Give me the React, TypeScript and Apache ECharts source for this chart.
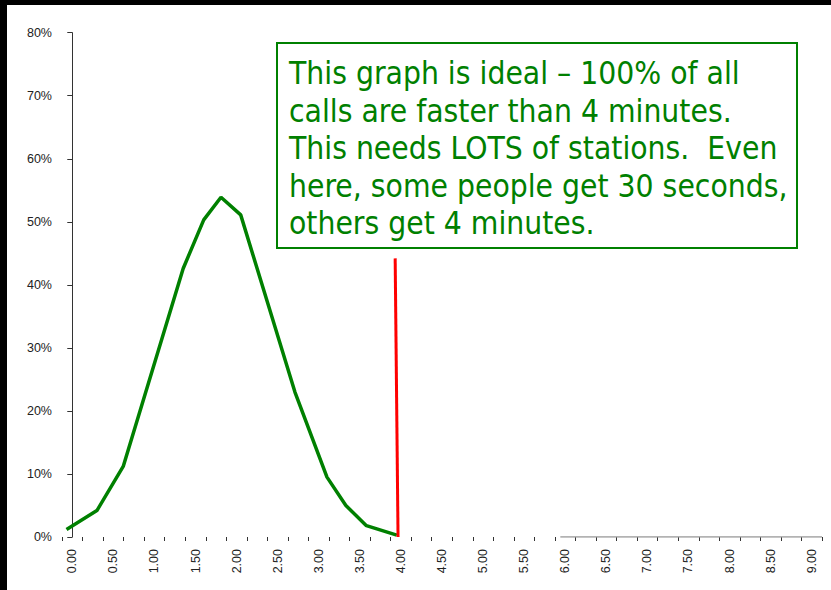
import React, { useEffect, useRef } from "react";
import * as echarts from "echarts";

// Tick labels of the category axis (minutes)
const categories = [
  "0.00", "0.25", "0.50", "0.75", "1.00", "1.25", "1.50", "1.75", "2.00", "2.25",
  "2.50", "2.75", "3.00", "3.25", "3.50", "3.75", "4.00", "4.25", "4.50", "4.75",
  "5.00", "5.25", "5.50", "5.75", "6.00", "6.25", "6.50", "6.75", "7.00", "7.25",
  "7.50", "7.75", "8.00", "8.25", "8.50", "8.75", "9.00",
];

// Green distribution curve (minutes, % of calls)
const curveX = [-0.07, 0.3, 0.62, 1.35, 1.6, 1.81, 2.05, 2.71, 3.1, 3.33, 3.58, 3.95];
const curveY = [1.2, 4.2, 11.2, 42.6, 50.3, 53.9, 51.1, 23.0, 9.5, 5.0, 1.8, 0.3];

// Red 4-minute marker
const markerX = [3.93, 3.965];
const markerY = [44.2, 0];

// Grey baseline tail
const tailX = [5.94, 9.125];
const tailY = [0, 0];

const yTicks = [0, 10, 20, 30, 40, 50, 60, 70, 80];

const noteLines = [
  "This graph is ideal \u2013 100% of all",
  "calls are faster than 4 minutes.",
  "This needs LOTS of stations.  Even",
  "here, some people get 30 seconds,",
  "others get 4 minutes.",
];

const pair = (xs: number[], ys: number[]) => xs.map((x, i) => [x, ys[i]]);

export default function App() {
  const ref = useRef<HTMLDivElement>(null);

  useEffect(() => {
    if (!ref.current) return;
    const chart = echarts.init(ref.current, undefined, { renderer: "svg" });
    const axisFont = "'Liberation Sans', Arial, sans-serif";
    chart.setOption({
      animation: false,
      backgroundColor: "#ffffff",
      grid: { left: 55, right: 9, top: 27.7, bottom: 53, containLabel: false },
      xAxis: [
        {
          type: "category",
          data: categories,
          boundaryGap: true,
          axisLine: { show: false },
          axisTick: { show: true, interval: 0, length: 4, lineStyle: { color: "#333", width: 1 } },
          axisLabel: {
            interval: 1,
            rotate: 90,
            fontSize: 12.5,
            fontFamily: axisFont,
            color: "#222",
            margin: 12,
          },
          splitLine: { show: false },
        },
        {
          type: "value",
          min: -0.125,
          max: 9.125,
          show: false,
        },
      ],
      yAxis: {
        type: "value",
        min: yTicks[0],
        max: yTicks[yTicks.length - 1],
        interval: 10,
        axisLine: { show: true, lineStyle: { color: "#333", width: 1 } },
        axisTick: { show: true, length: 5, lineStyle: { color: "#333" } },
        axisLabel: {
          formatter: "{value}%",
          fontSize: 12.5,
          fontFamily: axisFont,
          color: "#222",
          margin: 10,
        },
        splitLine: { show: false },
      },
      series: [
        {
          type: "line",
          xAxisIndex: 1,
          data: pair(tailX, tailY),
          showSymbol: false,
          lineStyle: { color: "#9a9a9a", width: 1.5 },
          z: 3,
        },
        {
          type: "line",
          xAxisIndex: 1,
          data: pair(curveX, curveY),
          showSymbol: false,
          lineStyle: { color: "#008000", width: 3.5 },
          z: 4,
        },
        {
          type: "line",
          xAxisIndex: 1,
          data: pair(markerX, markerY),
          showSymbol: false,
          lineStyle: { color: "#ff0000", width: 3 },
          z: 5,
        },
      ],
      graphic: [
        {
          type: "rect",
          z: 10,
          shape: { x: 270, y: 38, width: 520, height: 205 },
          style: { fill: "#ffffff", stroke: "#008000", lineWidth: 2 },
        },
        ...noteLines.map((t, i) => ({
          type: "text",
          z: 11,
          x: 282,
          y: 68 + 37.5 * i,
          style: {
            text: t,
            fill: "#008000",
            font: "31.5px 'DejaVu Sans Condensed', 'DejaVu Sans', sans-serif",
            textVerticalAlign: "middle",
          },
        })),
      ],
    });
    return () => chart.dispose();
  }, []);

  return (
    <div style={{ position: "fixed", left: 0, top: 0, width: 831, height: 590, background: "#000" }}>
      <div
        ref={ref}
        style={{ position: "absolute", left: 7, top: 5, width: 824, height: 585, background: "#fff" }}
      />
    </div>
  );
}
